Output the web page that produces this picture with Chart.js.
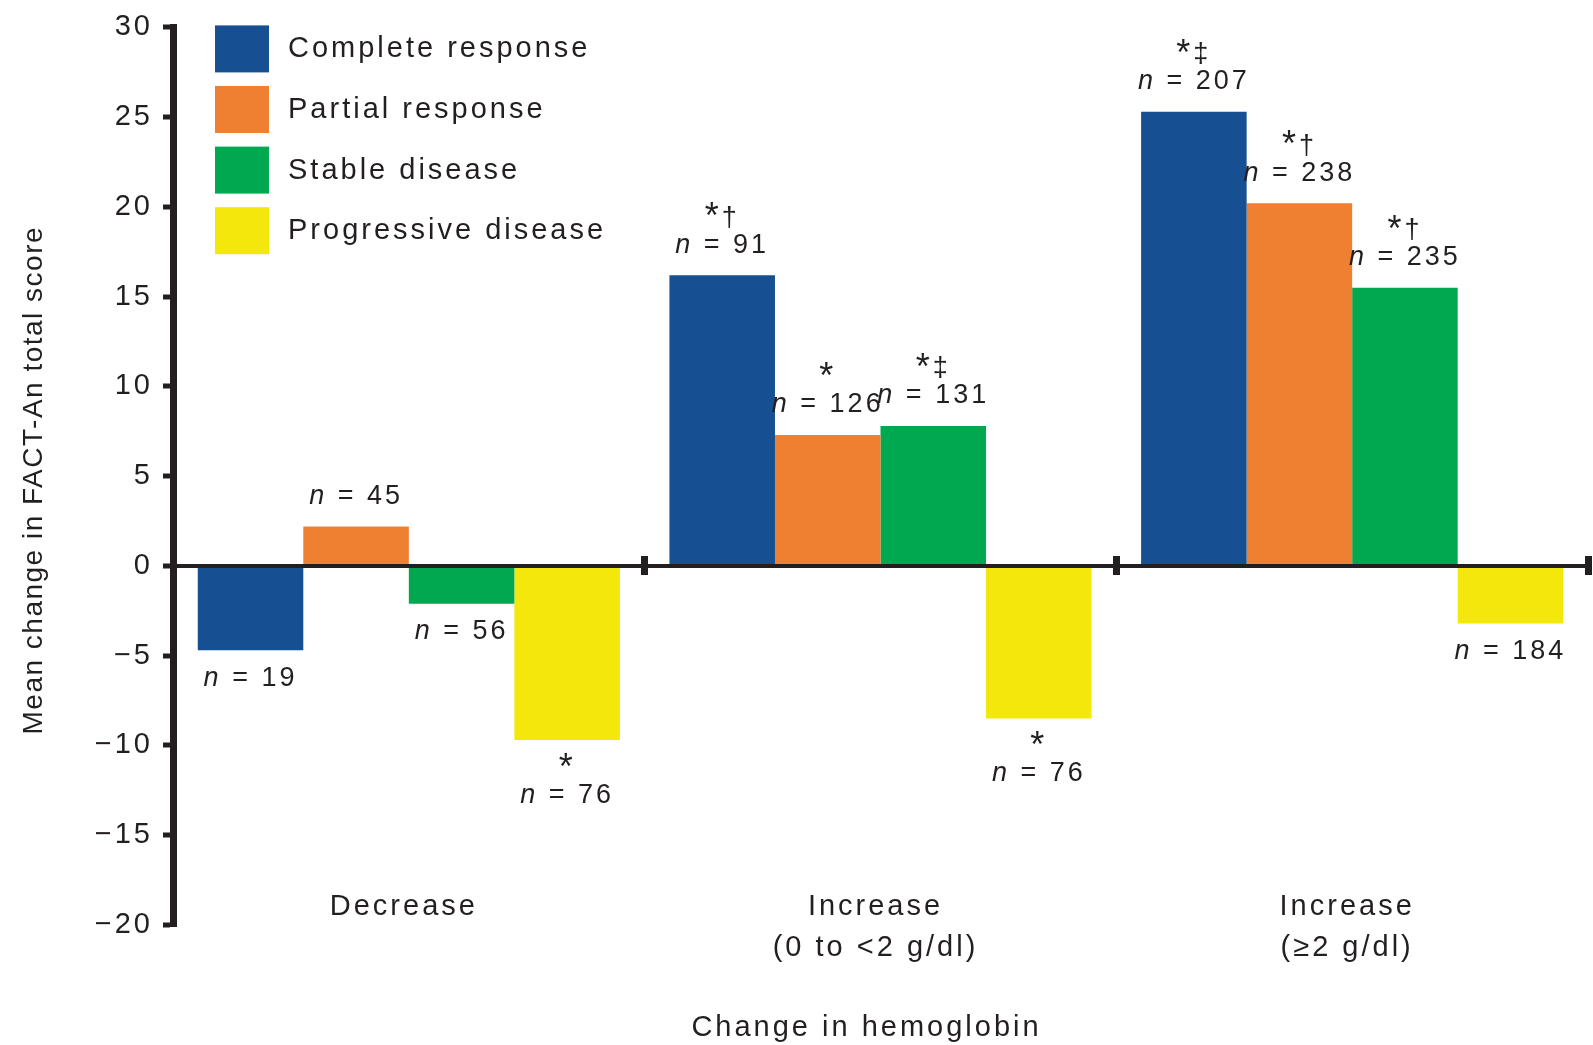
<!DOCTYPE html>
<html>
<head>
<meta charset="utf-8">
<script src="https://cdn.jsdelivr.net/npm/chart.js@4.4.1/dist/chart.umd.min.js"></script>
<style>
  html, body { margin: 0; padding: 0; background: #ffffff; }
  canvas { display: block; }
</style>
</head>
<body>
<canvas id="chart" width="1593" height="1045"></canvas>
<script>
// Hemoglobin change groups (x categories, multi-line labels)
const categories = [['Decrease'], ['Increase', '(0 to <2 g/dl)'], ['Increase', '(\u22652 g/dl)']];
const seriesNames = ['Complete response', 'Partial response', 'Stable disease', 'Progressive disease'];

// Mean change in FACT-An total score per tumour response group
const completeResponse   = [-4.7, 16.2, 25.3];
const partialResponse    = [2.2, 7.3, 20.2];
const stableDisease      = [-2.1, 7.8, 15.5];
const progressiveDisease = [-9.7, -8.5, -3.2];

// Patients per bar
const nComplete    = [19, 91, 207];
const nPartial     = [45, 126, 238];
const nStable      = [56, 131, 235];
const nProgressive = [76, 76, 184];

// Significance markers per bar
const markComplete    = ['', '*\u2020', '*\u2021'];
const markPartial     = ['', '*', '*\u2020'];
const markStable      = ['', '*\u2021', '*\u2020'];
const markProgressive = ['*', '*', ''];

// Value axis ticks
const yMin = -20, yMax = 30, yStep = 5;
const xTitle = 'Change in hemoglobin';
const yTitle = 'Mean change in FACT-An total score';

const palette = ['#164f92', '#ef7f31', '#00a84f', '#f3e70c'];
const ink = '#231f20';
const FONT = "'Liberation Sans', Arial, Helvetica, sans-serif";
const SPACING = '3px';

const seriesValues = [completeResponse, partialResponse, stableDisease, progressiveDisease];
const seriesN = [nComplete, nPartial, nStable, nProgressive];
const seriesMarks = [markComplete, markPartial, markStable, markProgressive];

function setFont(ctx, size, italic) {
  ctx.font = (italic ? 'italic ' : '') + size + 'px ' + FONT;
}

// Draw a row of text runs centred on cx; each run = [text, italic, size]
function drawRuns(ctx, runs, cx, cy) {
  let total = 0;
  const widths = runs.map(([t, it, sz]) => {
    setFont(ctx, sz, it);
    const w = ctx.measureText(t).width;
    total += w;
    return w;
  });
  let x = cx - total / 2;
  ctx.textAlign = 'left';
  ctx.textBaseline = 'middle';
  runs.forEach(([t, it, sz], i) => {
    setFont(ctx, sz, it);
    ctx.fillText(t, x, cy);
    x += widths[i];
  });
}

function markRuns(mark) {
  return mark.split('').map(ch => ch === '*' ? [ch, false, 36] : [ch, false, 27]);
}

// Wider tracking on all canvas text
const trackingPlugin = {
  id: 'tracking',
  beforeUpdate(chart) { chart.ctx.letterSpacing = SPACING; },
  beforeDraw(chart) { chart.ctx.letterSpacing = SPACING; }
};

// Zero-line boundary ticks, n labels, legend, category labels and axis titles
const figurePlugin = {
  id: 'figure',
  afterDatasetsDraw(chart) {
    const ctx = chart.ctx;
    const x = chart.scales.x, y = chart.scales.y;
    const zero = y.getPixelForValue(0);
    ctx.save();
    ctx.fillStyle = ink;
    for (let i = 0; i < categories.length; i++) {
      const bx = x.getPixelForValue(i + 0.5);
      ctx.fillRect(Math.round(bx - 3.5), Math.round(zero - 9.5), 7, 19);
    }

    // sample sizes and markers
    chart.data.datasets.forEach((ds, di) => {
      const meta = chart.getDatasetMeta(di);
      meta.data.forEach((bar, j) => {
        const up = seriesValues[di][j] >= 0;
        const mark = seriesMarks[di][j];
        const nRun = [['n', true, 27], [' = ' + seriesN[di][j], false, 27]];
        if (up) {
          drawRuns(ctx, nRun, bar.x, bar.y - 30);
          if (mark) drawRuns(ctx, markRuns(mark), bar.x, bar.y - 57);
        } else if (mark) {
          drawRuns(ctx, markRuns(mark), bar.x, bar.y + 29);
          drawRuns(ctx, nRun, bar.x, bar.y + 55);
        } else {
          drawRuns(ctx, nRun, bar.x, bar.y + 28);
        }
      });
    });
    ctx.restore();
  },
  afterDraw(chart) {
    const ctx = chart.ctx;
    const area = chart.chartArea;
    const x = chart.scales.x, y = chart.scales.y;
    const top = y.getPixelForValue(yMax);
    ctx.save();
    ctx.fillStyle = ink;

    // legend
    chart.data.datasets.forEach((ds, i) => {
      const rowTop = top - 2 + i * 60.6;
      ctx.fillStyle = ds.backgroundColor;
      ctx.fillRect(area.left + 42, rowTop, 54, 47);
      ctx.fillStyle = ink;
      setFont(ctx, 29, false);
      ctx.textAlign = 'left';
      ctx.textBaseline = 'middle';
      ctx.fillText(ds.label, area.left + 115, rowTop + 24);
    });

    // category labels
    setFont(ctx, 29, false);
    ctx.textAlign = 'center';
    ctx.textBaseline = 'middle';
    categories.forEach((lines, i) => {
      const cx = x.getPixelForValue(i) - 5;
      lines.forEach((line, k) => ctx.fillText(line, cx, area.bottom - 18 + k * 41));
    });

    // x title
    ctx.fillText(xTitle, (area.left + area.right) / 2 - 14, area.bottom + 103);

    // y title
    ctx.translate(34, (area.top + area.bottom) / 2 + 4);
    ctx.rotate(-Math.PI / 2);
    ctx.letterSpacing = '1.5px';
    setFont(ctx, 28, false);
    ctx.fillText(yTitle, 0, 0);
    ctx.restore();
  }
};

const datasets = seriesNames.map((name, i) => ({
  label: name,
  data: seriesValues[i],
  backgroundColor: palette[i],
  borderWidth: 0,
  categoryPercentage: 0.895,
  barPercentage: 1.0
}));

Chart.defaults.font.family = FONT;
Chart.defaults.color = ink;

new Chart(document.getElementById('chart'), {
  type: 'bar',
  data: { labels: categories, datasets },
  plugins: [trackingPlugin, figurePlugin],
  options: {
    responsive: false,
    animation: false,
    devicePixelRatio: 1,
    layout: { padding: { top: 24, right: 5, bottom: 120, left: 0 } },
    plugins: {
      legend: { display: false },
      tooltip: { enabled: false }
    },
    scales: {
      x: { display: false },
      y: {
        min: yMin,
        max: yMax,
        afterFit(scale) { scale.width = 173; },
        ticks: {
          stepSize: yStep,
          padding: 10,
          color: ink,
          font: { size: 29 },
          callback: v => (v < 0 ? '\u2212' + Math.abs(v) : String(v))
        },
        grid: {
          drawOnChartArea: true,
          color: c => (c.tick && c.tick.value === 0 ? ink : 'rgba(0,0,0,0)'),
          lineWidth: 4,
          tickColor: ink,
          tickWidth: 5,
          tickLength: 10
        },
        border: { display: true, color: ink, width: 7 },
        title: { display: false }
      }
    }
  }
});
</script>
</body>
</html>
